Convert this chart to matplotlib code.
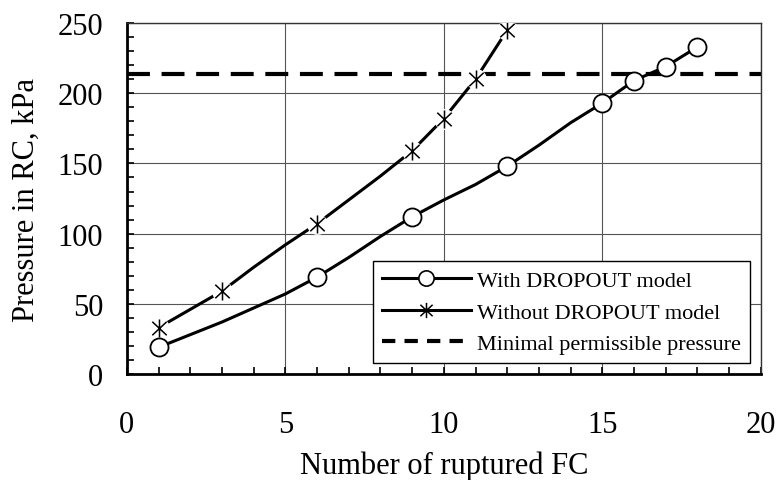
import matplotlib.pyplot as plt
from matplotlib.path import Path
from matplotlib.ticker import MultipleLocator

# Data
fc_with = [1, 2, 3, 4, 5, 6, 7, 8, 9, 10, 11, 12, 13, 14, 15, 16, 17, 18]
p_with = [19, 28, 37, 47, 57, 69, 83, 98, 112, 124, 135, 148, 163, 179, 193, 209, 219, 233]
marks_with = [0, 5, 8, 11, 14, 15, 16, 17]

fc_without = [1, 2, 3, 4, 5, 6, 7, 8, 9, 10, 11, 12]
p_without = [33, 46, 59, 76, 92, 107, 124, 141, 159, 182, 210, 245]
marks_without = [0, 2, 5, 8, 9, 10, 11]

min_pressure = 214

plt.rcParams["font.family"] = ["Liberation Serif", "DejaVu Serif"]

# asterisk marker: vertical bar plus an X
star = Path(
    [(0, -1), (0, 1), (-0.8, -0.75), (0.8, 0.75), (-0.8, 0.75), (0.8, -0.75)],
    [Path.MOVETO, Path.LINETO, Path.MOVETO, Path.LINETO, Path.MOVETO, Path.LINETO],
)

fig = plt.figure(figsize=(7.78, 4.81), dpi=100)
ax = fig.add_axes([0.163, 0.2204, 0.815, 0.7296])

ax.grid(True, which="major", color="#555555", linewidth=0.8)
ax.set_axisbelow(True)

ax.axhline(min_pressure, color="black", linewidth=3.0, dashes=(5.5, 2.8), zorder=2)

ax.plot(fc_with, p_with, color="black", linewidth=2.2, zorder=3)
ax.plot(fc_without, p_without, color="black", linewidth=2.2, zorder=3)

# white halos around the markers, like the original
ax.plot([fc_without[i] for i in marks_without], [p_without[i] for i in marks_without],
        linestyle="none", marker="o", markersize=15, markerfacecolor="white",
        markeredgecolor="none", zorder=4)
ax.plot([fc_without[i] for i in marks_without], [p_without[i] for i in marks_without],
        linestyle="none", marker=star, markersize=13, markerfacecolor="none",
        markeredgecolor="black", markeredgewidth=1.1, zorder=5)
ax.plot([fc_with[i] for i in marks_with], [p_with[i] for i in marks_with],
        linestyle="none", marker="o", markersize=13, markerfacecolor="white",
        markeredgecolor="black", markeredgewidth=1.3, zorder=5)

# legend proxies
h1, = ax.plot([], [], color="black", linewidth=2.2, marker="o", markersize=11,
              markerfacecolor="white", markeredgecolor="black", markeredgewidth=1.2,
              label="With DROPOUT model")
h2, = ax.plot([], [], color="black", linewidth=2.2, marker=star, markersize=11,
              markerfacecolor="none", markeredgecolor="black", markeredgewidth=1.1,
              label="Without DROPOUT model")
h3, = ax.plot([], [], color="black", linewidth=3.0, dashes=(3.2, 2.2),
              label="Minimal permissible pressure")
leg = ax.legend(handles=[h1, h2, h3], loc="lower right", fontsize=16,
                frameon=True, fancybox=False, edgecolor="black", framealpha=1,
                handlelength=4.0, handletextpad=0.3, borderpad=0.4,
                labelspacing=0.5, borderaxespad=0.0,
                bbox_to_anchor=(0.983, 0.031))
leg.get_frame().set_linewidth(1.0)
leg.set_zorder(6)

ax.set_xlim(0, 20)
ax.set_ylim(0, 250)
ax.xaxis.set_major_locator(MultipleLocator(5))
ax.xaxis.set_minor_locator(MultipleLocator(1))
ax.yaxis.set_major_locator(MultipleLocator(50))
ax.yaxis.set_minor_locator(MultipleLocator(10))
ax.tick_params(which="both", direction="in", labelsize=22, top=False, right=False)
ax.tick_params(which="both", length=5, width=1.2)
ax.tick_params(axis="x", which="major", pad=26)
ax.tick_params(axis="y", which="major", pad=17)

for side in ["left", "bottom"]:
    ax.spines[side].set_linewidth(2.0)
for side in ["top", "right"]:
    ax.spines[side].set_linewidth(1.0)
    ax.spines[side].set_color("#333333")

ax.set_xlabel("Number of ruptured FC", fontsize=22, labelpad=8)
ax.set_ylabel("Pressure in RC, kPa", fontsize=22, labelpad=12)

fig.savefig("out.png", dpi=100)
